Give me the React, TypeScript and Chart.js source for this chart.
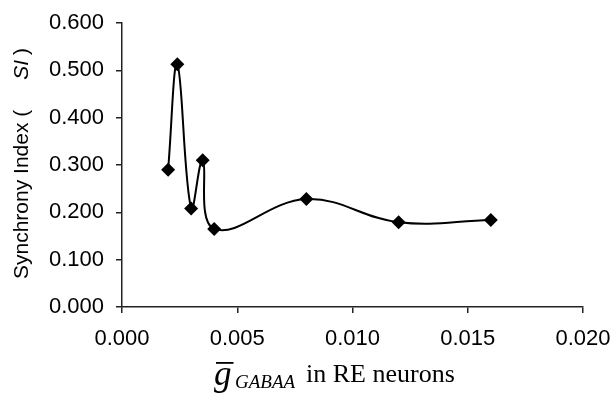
import React, { useEffect, useRef } from "react";
import { Chart, registerables } from "chart.js";

Chart.register(...registerables);

const gValues = [0.002, 0.0024, 0.003, 0.0035, 0.004, 0.008, 0.012, 0.016];
const siValues = [0.29, 0.513, 0.208, 0.31, 0.165, 0.228, 0.179, 0.184];
const xTicks = [0, 0.005, 0.01, 0.015, 0.02];
const yTicks = [0, 0.1, 0.2, 0.3, 0.4, 0.5, 0.6];

const titlePlugin = {
  id: "titles",
  afterDraw(chart: any) {
    const ctx = chart.ctx;
    ctx.save();
    ctx.fillStyle = "#000";
    // Y title rotated
    ctx.save();
    ctx.translate(22, 0);
    ctx.rotate(-Math.PI / 2);
    ctx.textBaseline = "middle";
    ctx.textAlign = "left";
    const yStart = -279;
    ctx.font = "21px 'Liberation Sans', Arial, sans-serif";
    const p1 = "Synchrony Index (";
    ctx.fillText(p1, yStart, 0);
    let off = yStart + ctx.measureText(p1).width + 30;
    ctx.font = "italic 21px 'Liberation Sans', Arial, sans-serif";
    ctx.fillText("SI", off, 0);
    off += ctx.measureText("SI").width + 5;
    ctx.font = "21px 'Liberation Sans', Arial, sans-serif";
    ctx.fillText(")", off, 0);
    ctx.restore();

    // X title
    ctx.textAlign = "left";
    ctx.textBaseline = "alphabetic";
    const gx = 214;
    ctx.font = "italic 35px 'Liberation Serif', 'Times New Roman', serif";
    ctx.fillText("g", gx, 385);
    const gw = ctx.measureText("g").width;
    ctx.fillRect(gx + 2, 362, gw, 1.8);
    ctx.font = "italic 19px 'Liberation Serif', 'Times New Roman', serif";
    ctx.fillText("GABAA", 235, 388);
    ctx.font = "26px 'Liberation Serif', 'Times New Roman', serif";
    ctx.fillText("in RE neurons", 306, 382);
    ctx.restore();
  },
};

export default function App() {
  const ref = useRef<HTMLCanvasElement>(null);
  useEffect(() => {
    document.body.style.margin = "0";
    const chart = new Chart(ref.current!, {
      type: "scatter",
      data: {
        datasets: [
          {
            data: gValues.map((x, i) => ({ x, y: siValues[i] })),
            showLine: true,
            borderColor: "#000",
            backgroundColor: "#000",
            borderWidth: 2,
            tension: 0.4,
            pointStyle: "rectRot",
            pointRadius: 7,
            pointBorderWidth: 0,
          },
        ],
      },
      options: {
        animation: false,
        responsive: false,
        layout: { padding: { top: 23, right: 31, left: 0, bottom: 0 } },
        plugins: { legend: { display: false }, tooltip: { enabled: false } },
        scales: {
          x: {
            type: "linear",
            min: 0,
            max: 0.02,
            afterBuildTicks: (s: any) => {
              s.ticks = xTicks.map((v) => ({ value: v }));
            },
            afterFit: (s: any) => {
              s.height = 90;
              s.paddingLeft = 0;
              s.paddingRight = 0;
            },
            ticks: {
              color: "#000",
              padding: 13,
              maxRotation: 0,
              font: { family: "'Liberation Sans', Arial, sans-serif", size: 22 },
              callback: (v: any) => Number(v).toFixed(3),
            },
            grid: { drawOnChartArea: false, drawTicks: true, tickLength: 6, color: "#222", lineWidth: 1.5 },
            border: { display: true, color: "#222", width: 1.5 },
          },
          y: {
            type: "linear",
            min: 0,
            max: 0.6,
            afterBuildTicks: (s: any) => {
              s.ticks = yTicks.map((v) => ({ value: v }));
            },
            afterFit: (s: any) => {
              s.width = 122;
              s.paddingTop = 0;
              s.paddingBottom = 0;
            },
            ticks: {
              color: "#000",
              padding: 12,
              font: { family: "'Liberation Sans', Arial, sans-serif", size: 22 },
              callback: (v: any) => Number(v).toFixed(3),
            },
            grid: { drawOnChartArea: false, drawTicks: true, tickLength: 6, color: "#222", lineWidth: 1.5 },
            border: { display: true, color: "#222", width: 1.5 },
          },
        },
      },
      plugins: [titlePlugin],
    });
    return () => chart.destroy();
  }, []);
  return (
    <div style={{ width: 614, height: 397, background: "#fff" }}>
      <canvas ref={ref} width={614} height={397} />
    </div>
  );
}
